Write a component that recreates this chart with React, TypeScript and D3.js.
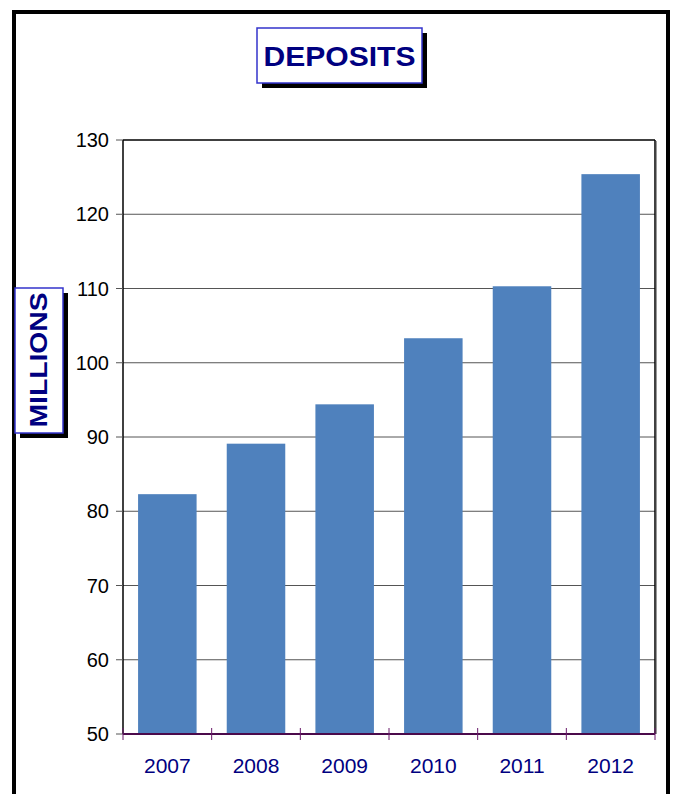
import React from "react";
import * as d3 from "d3";

const years = ["2007", "2008", "2009", "2010", "2011", "2012"];
const deposits = [82.3, 89.1, 94.4, 103.3, 110.3, 125.4];
const yTicks = [50, 60, 70, 80, 90, 100, 110, 120, 130];

const W = 674;
const H = 794;
const plot = { left: 123, top: 140, right: 655, bottom: 734 };
const navy = "#000080";
const font = "'Liberation Sans', Arial, sans-serif";

export default function App() {
  const x = d3
    .scaleBand<string>()
    .domain(years)
    .range([plot.left, plot.right])
    .paddingInner(0.34)
    .paddingOuter(0.17);
  const y = d3.scaleLinear().domain([50, 130]).range([plot.bottom, plot.top]);
  const boundaries = d3.range(years.length + 1).map((i) => plot.left + i * ((plot.right - plot.left) / years.length));

  return (
    <svg
      width={W}
      height={H}
      style={{ position: "absolute", left: 0, top: 0, background: "#fff" }}
      fontFamily={font}
    >
      {/* outer frame */}
      <rect x={14} y={12} width={654} height={800} fill="#fff" stroke="#000" strokeWidth={4} />

      {/* gridlines */}
      {yTicks.slice(1, -1).map((t) => (
        <line key={t} x1={plot.left} x2={plot.right} y1={y(t)} y2={y(t)} stroke="#555" strokeWidth={1} />
      ))}

      {/* bars */}
      {years.map((yr, i) => (
        <rect
          key={yr}
          x={x(yr)}
          y={y(deposits[i])}
          width={x.bandwidth()}
          height={y(50) - y(deposits[i])}
          fill="#4f81bd"
        />
      ))}

      {/* plot frame */}
      <line x1={plot.left} x2={plot.right} y1={plot.top} y2={plot.top} stroke="#000" strokeWidth={1.5} />
      <line x1={plot.left} x2={plot.left} y1={plot.top} y2={plot.bottom} stroke="#000" strokeWidth={1.5} />
      <line x1={plot.right} x2={plot.right} y1={plot.top} y2={plot.bottom} stroke="#000" strokeWidth={1.5} />
      <line x1={plot.right + 1.5} x2={plot.right + 1.5} y1={plot.top + 1} y2={plot.bottom} stroke="#999" strokeWidth={1} />

      {/* y ticks and labels */}
      {yTicks.map((t) => (
        <g key={t}>
          <line x1={plot.left - 7} x2={plot.left} y1={y(t)} y2={y(t)} stroke="#555" strokeWidth={1} />
          <text x={plot.left - 14} y={y(t)} dy="0.35em" textAnchor="end" fontSize={20} fill="#000">
            {t}
          </text>
        </g>
      ))}

      {/* x axis */}
      <line x1={plot.left} x2={plot.right} y1={plot.bottom} y2={plot.bottom} stroke="#4b0a4b" strokeWidth={2} />
      {boundaries.map((bx, i) => (
        <line key={i} x1={bx} x2={bx} y1={plot.bottom - 6} y2={plot.bottom + 6} stroke="#6a1a6a" strokeWidth={1} />
      ))}
      {years.map((yr) => (
        <text
          key={yr}
          x={(x(yr) as number) + x.bandwidth() / 2}
          y={plot.bottom + 39}
          textAnchor="middle"
          fontSize={21}
          fill={navy}
        >
          {yr}
        </text>
      ))}

      {/* title box */}
      <rect x={262} y={33} width={165} height={55} fill="#000" />
      <rect x={257} y={28} width={165} height={55} fill="#fff" stroke="#3333cc" strokeWidth={1.5} />
      <text
        x={339.5}
        y={55.5}
        dy="0.36em"
        textAnchor="middle"
        fontSize={28}
        fontWeight="bold"
        fill={navy}
        textLength={152}
        lengthAdjust="spacingAndGlyphs"
      >
        DEPOSITS
      </text>

      {/* y-axis label box */}
      <rect x={20} y={293} width={48} height={145} fill="#000" />
      <rect x={15} y={288} width={48} height={145} fill="#fff" stroke="#3333cc" strokeWidth={1.5} />
      <text
        transform={`translate(${38}, ${360}) rotate(-90)`}
        dy="0.36em"
        textAnchor="middle"
        fontSize={24}
        fontWeight="bold"
        fill={navy}
        textLength={135}
        lengthAdjust="spacingAndGlyphs"
      >
        MILLIONS
      </text>
    </svg>
  );
}
